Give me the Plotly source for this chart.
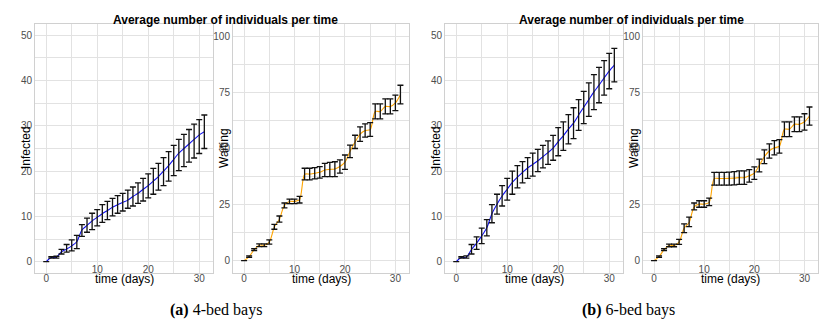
import numpy as np
import plotly.graph_objects as go

# czas symulacji (dni)
czas = list(range(32))

# (a) 4-bed bays
inf_a_mean = [0, 0.9, 1.0, 2.2, 2.8, 3.5, 4.4, 7.0, 8.0, 9.0, 9.8, 10.6, 11.3, 12.0, 12.6, 13.1,
              13.6, 14.4, 15.1, 16.0, 16.8, 17.8, 18.8, 20.0, 21.2, 22.6, 24.0, 25.0, 26.0, 27.0, 28.0, 28.7]
inf_a_low = [0, 0.8, 0.8, 1.7, 2.1, 2.4, 2.9, 5.6, 6.5, 7.1, 7.9, 8.7, 9.3, 10.1, 10.7, 11.2,
             11.8, 12.3, 12.9, 13.4, 14.1, 14.9, 15.8, 16.8, 17.8, 19.0, 20.1, 21.0, 22.0, 22.9, 23.9, 25.0]
inf_a_high = [0, 1.1, 1.2, 2.7, 3.8, 4.8, 5.8, 8.2, 9.6, 10.7, 11.5, 12.6, 13.3, 14.0, 14.6, 15.1,
              15.8, 16.5, 17.4, 18.4, 19.4, 20.6, 21.7, 23.0, 24.3, 25.7, 27.0, 28.1, 29.2, 30.4, 31.4, 32.4]

wait_a_mean = [0, 1.8, 4.9, 6.9, 6.9, 8.3, 15.0, 18.5, 24.7, 26.4, 26.4, 27.2, 38.5, 38.6, 39.0, 39.4,
               40.4, 40.7, 40.9, 42.0, 43.9, 48.7, 52.9, 56.4, 58.0, 58.4, 66.5, 66.5, 68.7, 68.7, 70.3, 74.0]
wait_a_low = [0, 1.5, 4.5, 6.3, 6.3, 7.4, 14.0, 17.2, 23.5, 25.4, 25.4, 25.7, 36.0, 36.0, 36.5, 36.8,
              37.5, 37.5, 37.5, 39.0, 40.7, 45.9, 50.0, 53.2, 55.1, 55.4, 63.2, 63.2, 65.4, 65.4, 66.9, 69.9]
wait_a_high = [0, 2.1, 5.3, 7.5, 7.5, 9.3, 16.2, 19.9, 25.7, 27.4, 27.4, 28.7, 41.2, 41.2, 41.5, 41.9,
               43.4, 43.8, 44.1, 44.9, 47.1, 51.5, 55.9, 59.6, 61.0, 61.5, 69.9, 69.9, 72.1, 72.1, 73.8, 78.2]

# (b) 6-bed bays
inf_b_mean = [0, 0.9, 1.0, 2.7, 4.1, 5.7, 7.5, 10.6, 12.7, 14.5, 16.0, 17.5, 18.7, 19.7, 20.7, 21.5,
              22.3, 23.2, 24.1, 25.1, 26.5, 27.8, 29.3, 30.6, 32.4, 34.1, 35.8, 37.5, 39.0, 40.6, 42.1, 43.4]
inf_b_low = [0, 0.8, 0.8, 1.7, 2.7, 4.0, 5.7, 8.6, 10.5, 12.3, 13.6, 14.9, 16.3, 17.4, 18.4, 18.9,
             19.9, 20.7, 21.5, 22.4, 23.4, 24.6, 26.0, 27.2, 29.0, 30.5, 32.1, 33.6, 35.1, 36.8, 38.2, 39.7]
inf_b_high = [0, 1.1, 1.3, 3.8, 5.5, 7.4, 9.3, 12.6, 14.9, 16.8, 18.4, 20.0, 21.2, 22.1, 23.0, 24.0,
              24.8, 25.7, 26.7, 27.9, 29.6, 30.9, 32.5, 34.0, 35.8, 37.6, 39.5, 41.3, 42.9, 44.4, 46.0, 47.1]

wait_b_mean = [0, 1.8, 4.9, 6.8, 6.8, 8.3, 14.5, 17.0, 24.0, 25.2, 25.2, 26.0, 36.6, 36.6, 36.6, 36.7,
               36.8, 37.0, 37.0, 37.8, 39.0, 42.5, 46.3, 49.0, 50.3, 51.0, 58.6, 58.6, 60.8, 60.8, 61.9, 64.5]
wait_b_low = [0, 1.5, 4.5, 6.2, 6.2, 7.3, 12.5, 15.2, 22.6, 23.8, 23.8, 24.5, 33.7, 33.7, 33.7, 33.7,
              33.8, 34.0, 34.0, 35.0, 36.2, 39.6, 43.3, 45.7, 47.2, 47.9, 55.3, 55.3, 57.5, 57.5, 58.2, 60.4]
wait_b_high = [0, 2.1, 5.3, 7.4, 7.4, 9.5, 16.4, 19.4, 25.7, 26.7, 26.7, 27.9, 39.4, 39.4, 39.4, 39.5,
               39.7, 40.0, 40.0, 40.6, 41.8, 45.3, 49.4, 52.1, 53.5, 54.0, 61.9, 61.9, 64.1, 64.1, 65.5, 68.5]

tytul = "Average number of individuals per time"
podpisy = ["<b>(a)</b> 4-bed bays", "<b>(b)</b> 6-bed bays"]

FONT = "Liberation Sans, Arial, sans-serif"
SIATKA = "#e2e2e2"
RAMKA = "#d0d0d0"
TICK_KOLOR = "#4d4d4d"

# (średnia, dół, góra, kolor linii, etykieta osi y, domena x w px)
panele = [
    (inf_a_mean, inf_a_low, inf_a_high, "#1010ee", "Infected", (35, 213)),
    (wait_a_mean, wait_a_low, wait_a_high, "#ffa500", "Waiting", (233, 409)),
    (inf_b_mean, inf_b_low, inf_b_high, "#1010ee", "Infected", (445, 623)),
    (wait_b_mean, wait_b_low, wait_b_high, "#ffa500", "Waiting", (643, 818)),
]

W, H = 840, 335
y_dom = [(H - 273) / H, (H - 24) / H]
x_range = [-2.2, 32.7]

fig = go.Figure()
layout = {}
annotations = []

for i, (mean, low, high, kolor, etykieta, (x0, x1)) in enumerate(panele, start=1):
    mean_arr = np.array(mean)
    plus = np.array(high) - mean_arr
    minus = mean_arr - np.array(low)
    xa = "x" if i == 1 else f"x{i}"
    ya = "y" if i == 1 else f"y{i}"
    xo = f"x{i + 4}"

    fig.add_trace(go.Scatter(
        x=czas, y=mean, mode="lines", xaxis=xa, yaxis=ya,
        line=dict(color=kolor, width=1.1, shape="spline", smoothing=0.8),
        showlegend=False, hoverinfo="skip"
    ))
    fig.add_trace(go.Scatter(
        x=czas, y=mean, mode="markers", xaxis=xo, yaxis=ya,
        marker=dict(size=2, color="rgba(0,0,0,0)"),
        error_y=dict(type="data", array=plus, arrayminus=minus, symmetric=False,
                     color="#111111", thickness=1.3, width=3),
        showlegend=False
    ))

    waiting = etykieta == "Waiting"
    if waiting:
        yr, yt, ym = [-5.5, 105.5], [0, 25, 50, 75, 100], 12.5
    else:
        yr, yt, ym = [-2.5, 52.5], [0, 10, 20, 30, 40, 50], 5

    osx = "xaxis" if i == 1 else f"xaxis{i}"
    osy = "yaxis" if i == 1 else f"yaxis{i}"
    layout[osx] = dict(
        domain=[x0 / W, x1 / W], anchor=ya, range=x_range,
        tickmode="array", tickvals=[0, 30], ticks="", ticklabelstandoff=-4,
        showgrid=True, gridcolor=SIATKA, gridwidth=1,
        minor=dict(tickmode="linear", tick0=0, dtick=5, showgrid=True, gridcolor=SIATKA, gridwidth=1),
        zeroline=False, showline=True, mirror=True, linecolor=RAMKA, linewidth=1,
        tickfont=dict(family=FONT, size=10, color=TICK_KOLOR),
    )
    # druga oś dla etykiet 10 i 20, które na oryginale są podniesione
    layout[f"xaxis{i + 4}"] = dict(
        overlaying=xa, anchor=ya, range=x_range,
        tickmode="array", tickvals=[10, 20], ticks="", ticklabelstandoff=-11,
        showgrid=False, zeroline=False, showline=False,
        tickfont=dict(family=FONT, size=10, color=TICK_KOLOR),
    )
    layout[osy] = dict(
        domain=y_dom, anchor=xa, range=yr,
        tickmode="array", tickvals=yt, ticks="",
        showgrid=True, gridcolor=SIATKA, gridwidth=1,
        minor=dict(tickmode="linear", tick0=0, dtick=ym, showgrid=True, gridcolor=SIATKA, gridwidth=1),
        zeroline=False, showline=True, mirror=True, linecolor=RAMKA, linewidth=1,
        tickfont=dict(family=FONT, size=10, color=TICK_KOLOR),
    )

    # tytuły osi (na oryginale nachodzą na etykiety)
    annotations.append(dict(
        text=etykieta, xref="paper", yref="paper", x=(x0 - 9) / W, y=1 - 148 / H,
        textangle=-90, showarrow=False, xanchor="center", yanchor="middle",
        font=dict(family=FONT, size=12, color="black")
    ))
    annotations.append(dict(
        text="time (days)", xref="paper", yref="paper", x=(x0 + x1) / 2 / W, y=1 - 279 / H,
        showarrow=False, xanchor="center", yanchor="middle",
        font=dict(family=FONT, size=12, color="black")
    ))

for cx in (225, 631):
    annotations.append(dict(
        text=f"<b>{tytul}</b>", xref="paper", yref="paper", x=cx / W, y=1 - 20 / H,
        showarrow=False, xanchor="center", yanchor="middle",
        font=dict(family=FONT, size=12, color="black")
    ))

for cx, txt in zip((216, 628), podpisy):
    annotations.append(dict(
        text=txt, xref="paper", yref="paper", x=cx / W, y=1 - 310 / H,
        showarrow=False, xanchor="center", yanchor="middle",
        font=dict(family="Liberation Serif, Times New Roman, serif", size=16, color="black")
    ))

fig.update_layout(
    width=W, height=H,
    margin=dict(l=0, r=0, t=0, b=0),
    paper_bgcolor="white", plot_bgcolor="white",
    annotations=annotations,
    showlegend=False,
    **layout
)

# bez domyślnego marginesu strony i bez paska narzędzi
fig.write_html("out.html", config={"displayModeBar": False},
               post_script="document.body.style.margin='0';")
